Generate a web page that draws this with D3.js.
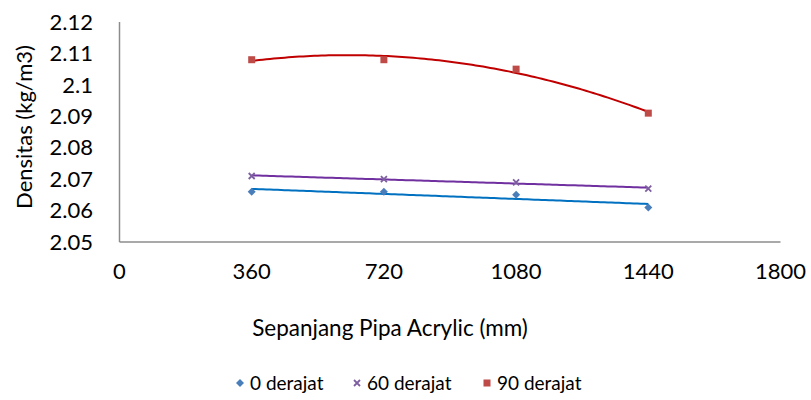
<!DOCTYPE html>
<html>
<head>
<meta charset="utf-8">
<script src="https://cdn.jsdelivr.net/npm/d3@7"></script>
<style>
  body { margin: 0; background: #fff; }
  text { font-family: Lato, "Open Sans", sans-serif; fill: #000; }
</style>
</head>
<body>
<div id="vis"></div>
<script>
// data
var panjang = [360, 720, 1080, 1440];
var derajat0 = [2.066, 2.066, 2.065, 2.061];
var derajat60 = [2.071, 2.070, 2.069, 2.067];
var derajat90 = [2.108, 2.108, 2.105, 2.091];
var xTicks = [0, 360, 720, 1080, 1440, 1800];
var yTicks = [2.05, 2.06, 2.07, 2.08, 2.09, 2.1, 2.11, 2.12];
var seriesNames = ['0 derajat', '60 derajat', '90 derajat'];

var width = 811;
var height = 400;

var svg = d3.select('#vis').append('svg')
  .attr('width', width)
  .attr('height', height);

var x = d3.scaleLinear().domain([0, 1800]).range([119.5, 780.5]);
var y = d3.scaleLinear().domain([2.05, 2.12]).range([242, 22]);

// axes lines (no tick marks)
svg.append('line')
  .attr('x1', x(0)).attr('x2', x(0))
  .attr('y1', y(2.12)).attr('y2', y(2.05))
  .attr('stroke', '#8c8c8c').attr('stroke-width', 1.5);
svg.append('line')
  .attr('x1', x(0)).attr('x2', x(1800))
  .attr('y1', y(2.05)).attr('y2', y(2.05))
  .attr('stroke', '#8c8c8c').attr('stroke-width', 1.5);

// tick labels
svg.selectAll('.ytick').data(yTicks).enter().append('text')
  .attr('class', 'ytick')
  .attr('x', 93)
  .attr('y', function(d) { return y(d); })
  .attr('dy', '0.35em')
  .attr('text-anchor', 'end')
  .attr('font-size', 22)
  .text(function(d) { return d3.format('')(+d.toFixed(2)); });

svg.selectAll('.xtick').data(xTicks).enter().append('text')
  .attr('class', 'xtick')
  .attr('x', function(d) { return x(d); })
  .attr('y', 271)
  .attr('dy', '0.35em')
  .attr('text-anchor', 'middle')
  .attr('font-size', 22)
  .text(function(d) { return d; });

// axis titles
svg.append('text')
  .attr('transform', 'translate(24,127) rotate(-90)')
  .attr('dy', '0.35em')
  .attr('text-anchor', 'middle')
  .attr('font-size', 22)
  .text('Densitas (kg/m3)');

svg.append('text')
  .attr('x', 390)
  .attr('y', 328)
  .attr('dy', '0.35em')
  .attr('text-anchor', 'middle')
  .attr('font-size', 22.5)
  .text('Sepanjang Pipa Acrylic (mm)');

// least squares polynomial fit (like the excel trendline)
function polyFit(xs, ys, order) {
  var n = order + 1;
  var A = [];
  for (var i = 0; i < n; i++) {
    A.push([]);
    for (var j = 0; j <= n; j++) A[i].push(0);
  }
  xs.forEach(function(xv, k) {
    var t = xv / 1000;
    for (var i = 0; i < n; i++) {
      for (var j = 0; j < n; j++) A[i][j] += Math.pow(t, i + j);
      A[i][n] += ys[k] * Math.pow(t, i);
    }
  });
  // gauss elimination
  for (var i = 0; i < n; i++) {
    for (var r = i + 1; r < n; r++) {
      var f = A[r][i] / A[i][i];
      for (var c = i; c <= n; c++) A[r][c] -= f * A[i][c];
    }
  }
  var coef = new Array(n).fill(0);
  for (var i = n - 1; i >= 0; i--) {
    var s = A[i][n];
    for (var j = i + 1; j < n; j++) s -= A[i][j] * coef[j];
    coef[i] = s / A[i][i];
  }
  return function(xv) {
    var t = xv / 1000, v = 0;
    for (var i = 0; i < n; i++) v += coef[i] * Math.pow(t, i);
    return v;
  };
}

var series = [
  { name: seriesNames[0], values: derajat0, line: '#0070c0', marker: '#4a7ebb', shape: 'diamond', order: 1 },
  { name: seriesNames[1], values: derajat60, line: '#7030a0', marker: '#7d5fa0', shape: 'cross', order: 1 },
  { name: seriesNames[2], values: derajat90, line: '#c00000', marker: '#be4b48', shape: 'square', order: 2 }
];

var line = d3.line()
  .x(function(d) { return x(d[0]); })
  .y(function(d) { return y(d[1]); });

series.forEach(function(s) {
  var fit = polyFit(panjang, s.values, s.order);
  var pts = d3.range(360, 1441, 10).map(function(v) { return [v, fit(v)]; });
  svg.append('path')
    .datum(pts)
    .attr('fill', 'none')
    .attr('stroke', s.line)
    .attr('stroke-width', 2)
    .attr('d', line);
});

function drawMarker(g, shape, color, cx, cy) {
  if (shape === 'diamond') {
    g.append('path')
      .attr('d', 'M' + cx + ',' + (cy - 4) + 'L' + (cx + 4) + ',' + cy + 'L' + cx + ',' + (cy + 4) + 'L' + (cx - 4) + ',' + cy + 'Z')
      .attr('fill', color);
  } else if (shape === 'square') {
    g.append('rect')
      .attr('x', cx - 3.5).attr('y', cy - 3.5)
      .attr('width', 7).attr('height', 7)
      .attr('fill', color);
  } else {
    g.append('path')
      .attr('d', 'M' + (cx - 3) + ',' + (cy - 3) + 'L' + (cx + 3) + ',' + (cy + 3) + 'M' + (cx + 3) + ',' + (cy - 3) + 'L' + (cx - 3) + ',' + (cy + 3))
      .attr('stroke', color)
      .attr('stroke-width', 1.8)
      .attr('fill', 'none');
  }
}

series.forEach(function(s) {
  var g = svg.append('g');
  s.values.forEach(function(v, i) {
    drawMarker(g, s.shape, s.marker, x(panjang[i]), y(v));
  });
});

// legend
var legendX = [240, 357, 487];
series.forEach(function(s, i) {
  var g = svg.append('g');
  drawMarker(g, s.shape, s.marker, legendX[i], 383);
  g.append('text')
    .attr('x', legendX[i] + 10)
    .attr('y', 383)
    .attr('dy', '0.35em')
    .attr('font-size', 19)
    .attr('fill', '#262626')
    .text(s.name);
});
</script>
</body>
</html>
